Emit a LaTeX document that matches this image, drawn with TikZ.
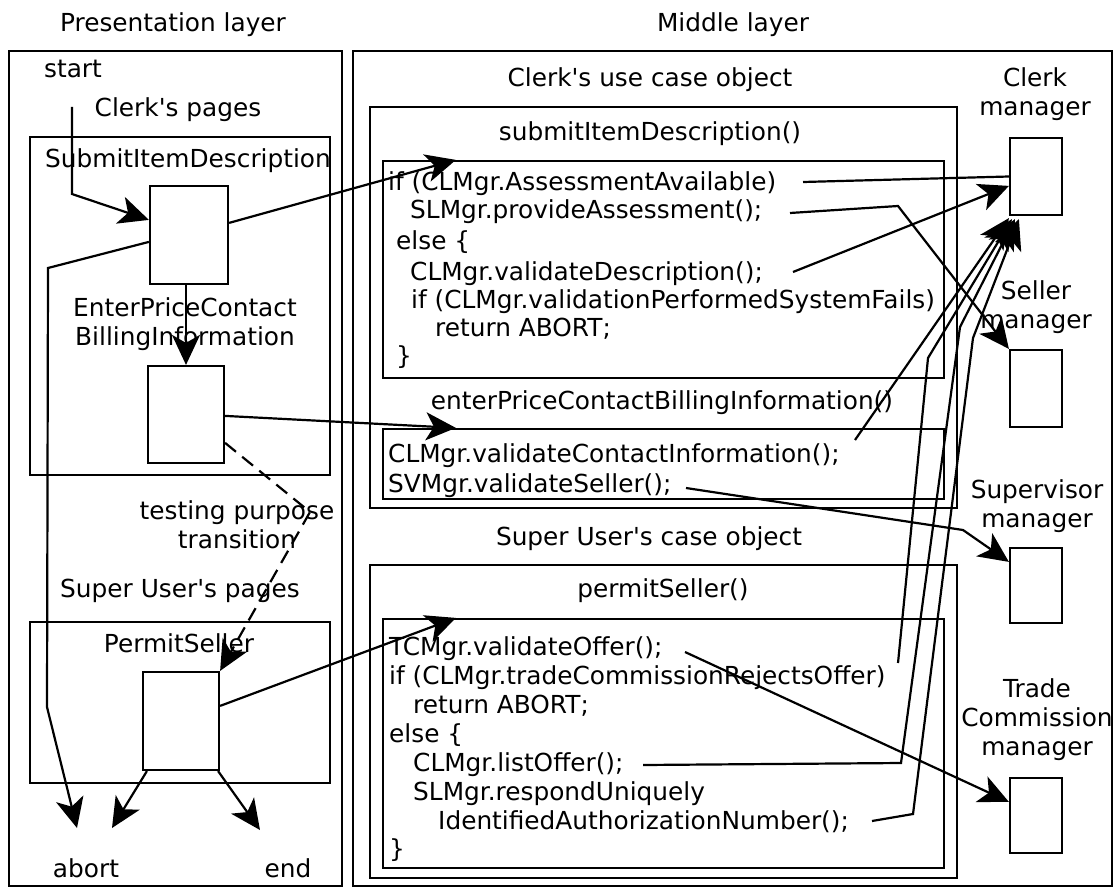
\documentclass[tikz,border=0pt]{standalone}
\usepackage{fontspec}
\setmainfont{DejaVu Sans}
\usetikzlibrary{arrows.meta,calc}
\begin{document}
\begin{tikzpicture}[x=1pt,y=-1pt,
  every node/.style={font=\fontsize{24.8}{29}\selectfont, inner sep=0pt},
  box/.style={draw, line width=2.2pt, inner sep=0pt},
  frame/.style={draw, line width=2.2pt},
  conn/.style={line width=2.2pt},
  arr/.style={conn, -{Stealth[length=30pt,width=28pt,inset=8pt]}},
  darr/.style={arr, dash pattern=on 14pt off 8pt},
  code/.style={anchor=base west},
  lbl/.style={align=center, anchor=base}
]
\useasboundingbox (0,0) rectangle (1115,888);
\fill[white] (0,0) rectangle (1115,888);

% ---------- frames ----------
\draw[frame] (9,51) rectangle (342,886);
\draw[frame] (353,51) rectangle (1112,886);
\draw[frame] (30,137) rectangle (330,475);
\draw[frame] (30,622) rectangle (330,783);
\draw[frame] (370,107) rectangle (957,508);
\draw[frame] (370,565) rectangle (957,878);

% ---------- titles ----------
\node[lbl] (tpres) at (173,32) {Presentation layer};
\node[lbl] (tmid) at (733,32) {Middle layer};
\node[lbl] (tstart) at (73,78) {start};
\node[lbl] (tclerkp) at (178,117) {Clerk\textquotesingle s pages};
\node[lbl] (tsubmit) at (188,167) {SubmitItemDescription};
\node[lbl] (tenter) at (185,345) {EnterPriceContact\\BillingInformation};
\node[lbl] (ttest) at (237,548) {testing purpose\\transition};
\node[lbl] (tsuperp) at (180,597) {Super User\textquotesingle s pages};
\node[lbl] (tpermit) at (179,652) {PermitSeller};
\node[lbl] (tabort) at (86,877) {abort};
\node[lbl] (tend) at (288,877) {end};

\node[lbl] (tcuc) at (650,87) {Clerk\textquotesingle s use case object};
\node[lbl] (tsid) at (650,140) {submitItemDescription()};
\node[lbl] (tepc) at (662,409) {enterPriceContactBillingInformation()};
\node[lbl] (tsuc) at (649,545) {Super User\textquotesingle s case object};
\node[lbl] (tps) at (663,597) {permitSeller()};

\node[lbl] (lclerk) at (1035,116) {Clerk\\manager};
\node[lbl] (lseller) at (1036,328) {Seller\\manager};
\node[lbl] (lsup) at (1037,527) {Supervisor\\manager};
\node[lbl] (ltc) at (1037,755) {Trade\\Commission\\manager};

% ---------- page boxes ----------
\node[box, minimum width=78pt, minimum height=98pt] (p1) at (189,235) {};
\node[box, minimum width=76pt, minimum height=97pt] (p2) at (186,414.5) {};
\node[box, minimum width=76pt, minimum height=98pt] (p3) at (181,721) {};

% ---------- manager boxes ----------
\node[box, minimum width=52pt, minimum height=77pt] (clerk) at (1036,176.5) {};
\node[box, minimum width=52pt, minimum height=77pt] (seller) at (1036,388.5) {};
\node[box, minimum width=52pt, minimum height=75pt] (sup) at (1036,585.5) {};
\node[box, minimum width=52pt, minimum height=75pt] (tc) at (1036,815.5) {};

% ---------- code boxes ----------
\node[box, minimum width=561pt, minimum height=217pt] (cb1) at (663.5,269.5) {};
\node[box, minimum width=561pt, minimum height=70pt] (cb2) at (663.5,464) {};
\node[box, minimum width=561pt, minimum height=249pt] (cb3) at (663.5,743.5) {};

% code text
\node[code] (l11) at (388,190) {if (CLMgr.AssessmentAvailable)};
\node[code] (l12) at (410,218) {SLMgr.provideAssessment();};
\node[code] (l13) at (396,249) {else \{};
\node[code] (l14) at (410,280) {CLMgr.validateDescription();};
\node[code] (l15) at (411,308) {if (CLMgr.validationPerformedSystemFails)};
\node[code] (l16) at (435,336) {return ABORT;};
\node[code] (l17) at (396,364) {\}};

\node[code] (l21) at (388,462) {CLMgr.validateContactInformation();};
\node[code] (l22) at (388,492) {SVMgr.validateSeller();};

\node[code] (l31) at (389,655) {TCMgr.validateOffer();};
\node[code] (l32) at (389,684) {if (CLMgr.tradeCommissionRejectsOffer)};
\node[code] (l33) at (413,713) {return ABORT;};
\node[code] (l34) at (389,742) {else \{};
\node[code] (l35) at (413,771) {CLMgr.listOffer();};
\node[code] (l36) at (413,800) {SLMgr.respondUniquely};
\node[code] (l37) at (438,829) {IdentifiedAuthorizationNumber();};
\node[code] (l38) at (389,857) {\}};

% ---------- coordinates ----------
\coordinate (s0) at (72,107);
\coordinate (s1) at (72,194);
\coordinate (ab1) at (48,268);
\coordinate (ab2) at (47,707);
\coordinate (abortA) at (77,828);
\coordinate (abortB) at (112,828);
\coordinate (endT) at (260,830);
\coordinate (dk) at (310,512);

\coordinate (a0) at (803,182);
\coordinate (b0) at (790,213);
\coordinate (b1) at (898,206);
\coordinate (c0) at (793,272);
\coordinate (d0) at (855,440);
\coordinate (f0) at (898,663);
\coordinate (f1) at (928,358);
\coordinate (g0) at (643,765);
\coordinate (g1) at (901,763);
\coordinate (g2) at (960,327);
\coordinate (h0) at (872,821);
\coordinate (h1) at (913,814);
\coordinate (h2) at (973,338);
\coordinate (i0) at (686,488);
\coordinate (i1) at (963,530);
\coordinate (e0) at (685,652);

% ---------- left connectors ----------
\draw[arr] (s0) -- (s1) -- ($(p1.north west)+(0,35)$);
\draw[arr] ($(p1.north east)+(0,38)$) -- ($(cb1.north west)+(74,0)$);
\draw[arr] (p2.north |- p1.south) -- (p2.north);
\draw[arr] ($(p1.north west)+(0,57)$) -- (ab1) -- (ab2) -- (abortA);
\draw[arr] ($(p2.north east)+(0,51)$) -- ($(cb2.north west)+(74,0)$);
\draw[darr] ($(p2.north east)+(0,78)$) -- (dk) -- (p3.north east);
\draw[arr] ($(p3.north east)+(0,35)$) -- ($(cb3.north west)+(74,0)$);
\draw[arr] ($(p3.south west)+(5,0)$) -- (abortB);
\draw[arr] ($(p3.south east)+(-2,0)$) -- (endT);

% ---------- right connectors ----------
\draw[conn] (a0) -- (clerk.west);
\draw[arr] (b0) -- (b1) -- (seller.north west);
\draw[arr] (c0) -- ($(clerk.north west)+(0,49)$);
\draw[arr] (d0) -- ($(clerk.south west)+(0,2)$);
\draw[arr] (f0) -- (f1) -- ($(clerk.south west)+(3,3)$);
\draw[arr] (g0) -- (g1) -- (g2) -- ($(clerk.south west)+(6,3)$);
\draw[arr] (h0) -- (h1) -- (h2) -- ($(clerk.south west)+(10,3)$);
\draw[arr] (i0) -- (i1) -- ($(sup.north west)+(0,15)$);
\draw[arr] (e0) -- ($(tc.north west)+(0,25)$);
\end{tikzpicture}
\end{document}
